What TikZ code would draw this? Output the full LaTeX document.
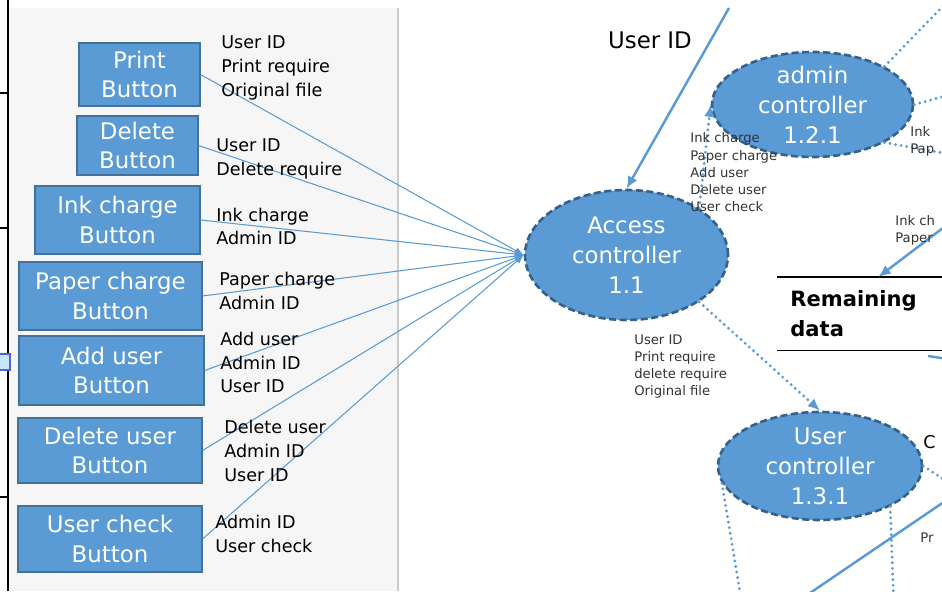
\documentclass[tikz,border=0pt]{standalone}
\usepackage{fontspec}
\setmainfont{DejaVu Sans}
\usetikzlibrary{shapes.geometric,arrows.meta}
\definecolor{boxblue}{HTML}{5B9BD5}
\definecolor{btnedge}{HTML}{41719C}
\definecolor{ctrledge}{HTML}{36618A}
\definecolor{lineblue}{HTML}{5B9BD5}
\definecolor{panelgray}{HTML}{F6F6F6}
\definecolor{barfill}{HTML}{C4E6F8}
\definecolor{barline}{HTML}{4F63D2}
\tikzset{
  btn/.style={draw=btnedge, fill=boxblue, text=white, align=center, inner sep=0pt,
    line width=0.6pt, font=\fontsize{13}{17}\selectfont},
  ctrl/.style={ellipse, draw=ctrledge, fill=boxblue, text=white, align=center,
    line width=1.5pt, dash pattern=on 4pt off 2pt, inner xsep=0pt, inner ysep=-4pt,
    font=\fontsize{13}{17}\selectfont},
  lbl/.style={anchor=west, align=left, inner sep=0pt, font=\fontsize{10}{13.6}\selectfont},
  tinylbl/.style={anchor=west, align=left, inner sep=0pt, text=black!80,
    font=\fontsize{7.5}{9.8}\selectfont},
  feed/.style={draw=lineblue, line width=0.6pt, -{Latex[length=5pt,width=4pt]}},
  flow/.style={draw=lineblue, line width=1.4pt, -{Latex[length=7pt,width=6pt]}},
  dotline/.style={draw=lineblue, line width=1.8pt, line cap=round, dash pattern=on 0pt off 3.2pt},
  dotflow/.style={dotline, -{Latex[length=7pt,width=6pt]}}
}
\begin{document}
\begin{tikzpicture}[x=0.02cm, y=-0.02cm]
\useasboundingbox (0,0) rectangle (942,591);
\clip (0,0) rectangle (942,591);
\fill[white] (0,0) rectangle (942,591);
\fill[panelgray] (8,8) rectangle (398,591);
\draw[black!20, line width=0.8pt] (398,8) -- (398,591);
\draw[line width=1.1pt] (8,0) -- (8,591);
\foreach \y in {93,228,497}
  \draw[line width=0.6pt] (0,\y) -- (8,\y);
\draw[draw=barline, fill=barfill, line width=0.8pt] (-2,354) rectangle (10,370);

\node[btn, minimum width=2.42cm, minimum height=1.26cm] (printbtn) at (139.5,74.5) {Print\\Button};
\node[btn, minimum width=2.42cm, minimum height=1.18cm] (deletebtn) at (137.5,145.5) {Delete\\Button};
\node[btn, minimum width=3.30cm, minimum height=1.36cm] (inkbtn) at (117.5,220) {Ink charge\\Button};
\node[btn, minimum width=3.66cm, minimum height=1.36cm] (paperbtn) at (110.5,296) {Paper charge\\Button};
\node[btn, minimum width=3.70cm, minimum height=1.38cm] (adduserbtn) at (111.5,370.5) {Add user\\Button};
\node[btn, minimum width=3.68cm, minimum height=1.30cm] (deluserbtn) at (110,450.5) {Delete user\\Button};
\node[btn, minimum width=3.68cm, minimum height=1.32cm] (checkbtn) at (110,539) {User check\\Button};

\node[ctrl, minimum width=4.06cm, minimum height=2.60cm] (access) at (626.5,255) {Access\\controller\\1.1};
\node[ctrl, minimum width=4.02cm, minimum height=2.10cm] (admin) at (812.5,104.5) {admin\\controller\\1.2.1};
\node[ctrl, minimum width=4.08cm, minimum height=2.16cm] (user) at (820,466) {User\\controller\\1.3.1};

\node[anchor=north west, minimum width=4.04cm, minimum height=1.46cm, text width=3.52cm,
  align=left, inner xsep=0.26cm, font=\bfseries\fontsize{12}{17}\selectfont] (store) at (777,277) {Remaining\\data};
\draw[line width=0.8pt] (store.north west) -- (store.north east) (store.south west) -- (store.south east);

\foreach \src in {printbtn,deletebtn,inkbtn,paperbtn,adduserbtn,deluserbtn,checkbtn}
  \draw[feed] (\src.east) -- (access.west);

\node[lbl] (lprint) at (221,68) {User ID\\Print require\\Original file};
\node[lbl] (ldelete) at (216,159) {User ID\\Delete require};
\node[lbl] (link) at (216,226.5) {Ink charge\\Admin ID};
\node[lbl] (lpaper) at (219,290.5) {Paper charge\\Admin ID};
\node[lbl] (ladduser) at (220,362.5) {Add user\\Admin ID\\User ID};
\node[lbl] (ldeluser) at (224,451) {Delete user\\Admin ID\\User ID};
\node[lbl] (lcheck) at (215,533.5) {Admin ID\\User check};

\node[font=\fontsize{13}{16}\selectfont] (uidlbl) at (650,40) {User ID};
\coordinate (uidsrc) at (729,8);
\draw[flow] (uidsrc) -- (access.north);

\draw[dotflow] (access.north east) -- (admin.west);
\draw[dotflow] (access.south east) -- (user.north);
\node[tinylbl] (ladmin) at (690,172.5) {Ink charge\\Paper charge\\Add user\\Delete user\\User check};
\node[tinylbl] (luser) at (634,366.5) {User ID\\Print require\\delete require\\Original file};

\coordinate (aa) at (945,4);
\coordinate (ab) at (960,92);
\coordinate (ac) at (960,156);
\draw[dotline] (admin.north east) -- (aa);
\draw[dotline] (admin.east) -- (ab);
\draw[dotline] (admin.south east) -- (ac);
\node[tinylbl] (linkr) at (910,141.5) {Ink\\Pap};

\coordinate (inksrc) at (960,215);
\draw[flow] (inksrc) -- (store.north);
\node[tinylbl] (linkst) at (895,230.5) {Ink ch\\Paper};
\coordinate (outa) at (928,356);
\coordinate (outb) at (960,361);
\draw[flow, -] (outa) -- (outb);

\coordinate (ua) at (960,490);
\coordinate (ub) at (743,610);
\coordinate (uc) at (894,610);
\coordinate (sa) at (785,610);
\coordinate (sb) at (960,491);
\draw[dotline] (user.east) -- (ua);
\draw[dotline] (user.190) -- (ub);
\draw[dotline] (user.330) -- (uc);
\draw[flow, -] (sa) -- (sb);
\node[lbl] (lc) at (923,442) {C};
\node[tinylbl] (lpr) at (920,538) {Pr};
\end{tikzpicture}
\end{document}
